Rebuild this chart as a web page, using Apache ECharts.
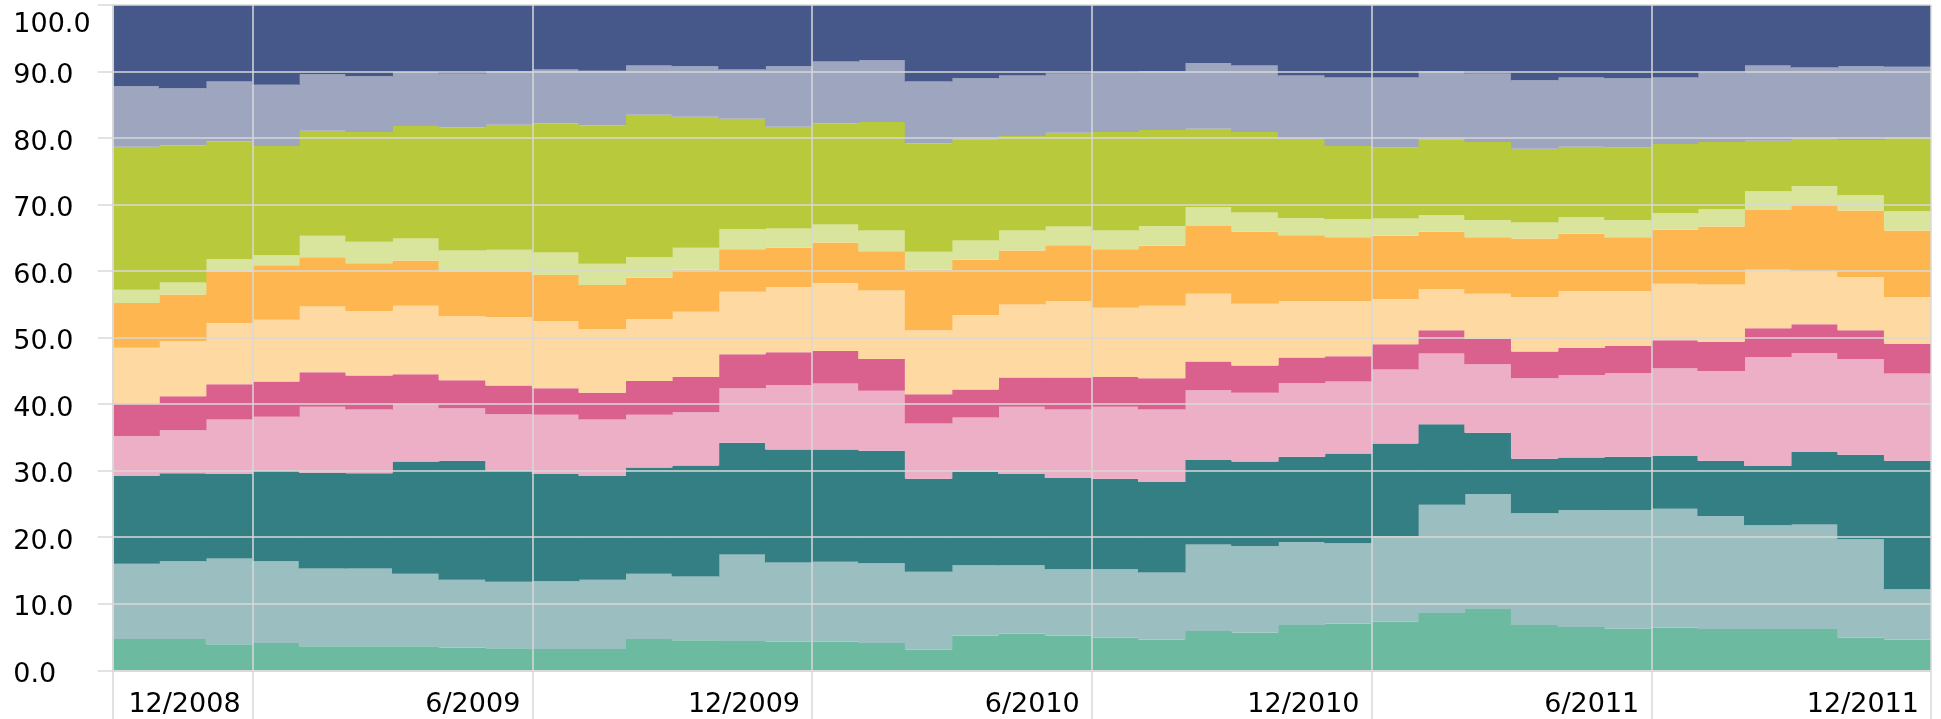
<!DOCTYPE html>
<html lang="en">
<head>
  <meta charset="UTF-8">
  <title>Monthly share, stacked</title>
  <style>
    html, body { margin: 0; padding: 0; background: #fff; }
    #main { width: 1941px; height: 719px; }
  </style>
</head>
<body>
  <div id="main"></div>
  <script src="https://cdn.jsdelivr.net/npm/echarts@6/dist/echarts.min.js"></script>
  <script type="text/javascript">

    // one entry per month, 10/2008 .. 12/2011
    var months = [
      '10/2008', '11/2008', '12/2008',
      '1/2009', '2/2009', '3/2009', '4/2009', '5/2009', '6/2009',
      '7/2009', '8/2009', '9/2009', '10/2009', '11/2009', '12/2009',
      '1/2010', '2/2010', '3/2010', '4/2010', '5/2010', '6/2010',
      '7/2010', '8/2010', '9/2010', '10/2010', '11/2010', '12/2010',
      '1/2011', '2/2011', '3/2011', '4/2011', '5/2011', '6/2011',
      '7/2011', '8/2011', '9/2011', '10/2011', '11/2011', '12/2011'
    ];
    var tickLabels = ['12/2008', '6/2009', '12/2009', '6/2010', '12/2010', '6/2011', '12/2011'];
    var yTicks = [0, 10, 20, 30, 40, 50, 60, 70, 80, 90, 100];

    // series, bottom to top (percent of total)
    var s1 = [4.7,4.7,3.9,4.1,3.6,3.6,3.6,3.4,3.3,3.2,3.2,4.7,4.5,4.4,4.3,4.3,4.1,3.1,5.2,5.5,5.2,4.9,4.6,5.9,5.7,6.8,7.0,7.3,8.6,9.2,6.8,6.5,6.3,6.4,6.2,6.2,6.2,4.9,4.6];
    var s2 = [11.3,11.7,12.9,12.3,11.7,11.7,10.9,10.2,10.0,10.2,10.4,9.8,9.6,13.0,11.9,12.0,12.0,11.7,10.6,10.3,10.0,10.3,10.1,13.0,13.0,12.5,12.1,12.9,16.3,17.3,16.8,17.6,17.8,17.9,17.0,15.6,15.7,14.8,7.6];
    var s3 = [13.2,13.2,12.7,13.6,14.4,14.3,16.9,17.9,16.7,16.1,15.6,16.0,16.7,16.8,17.0,16.9,16.9,14.0,14.1,13.7,13.7,13.6,13.6,12.7,12.7,12.8,13.5,13.9,12.1,9.2,8.2,7.9,8.0,7.9,8.3,8.9,10.9,12.7,19.3];
    var s4 = [6.0,6.5,8.2,8.1,9.9,9.6,8.6,7.9,8.5,8.9,8.5,7.9,8.0,8.2,9.7,9.9,9.0,8.3,8.1,10.1,10.3,10.8,10.9,10.5,10.3,11.1,10.8,11.1,10.6,10.3,12.1,12.4,12.6,13.2,13.5,16.4,14.9,14.4,13.1];
    var s5 = [4.9,5.1,5.3,5.3,5.2,5.1,4.5,4.2,4.3,4.0,4.0,5.1,5.3,5.1,4.9,4.9,4.8,4.4,4.2,4.4,4.8,4.5,4.7,4.3,4.1,3.8,3.8,3.8,3.5,3.8,4.0,4.1,4.1,4.2,4.4,4.3,4.3,4.3,4.5];
    var s6 = [8.4,8.3,9.2,9.3,9.9,9.7,10.3,9.6,10.3,10.1,9.6,9.3,9.8,9.4,9.8,10.2,10.3,9.6,11.2,11.0,11.5,10.4,10.9,10.2,9.3,8.5,8.3,6.8,6.2,6.8,8.2,8.5,8.2,8.5,8.6,8.8,8.0,8.0,7.0];
    var s7 = [6.7,7.0,7.7,8.2,7.4,7.2,6.8,6.7,6.8,6.9,6.6,6.2,6.3,6.4,5.9,6.1,5.9,9.1,8.3,8.1,8.4,8.8,9.0,10.2,10.8,9.9,9.6,9.5,8.6,8.5,8.8,8.6,8.1,8.1,8.7,9.0,9.9,10.0,10.0];
    var s8 = [2.0,1.8,1.9,1.5,3.2,3.2,3.3,3.2,3.3,3.4,3.2,3.1,3.3,3.0,2.9,2.7,3.1,2.7,2.9,3.0,2.8,2.8,3.0,2.8,2.9,2.6,2.7,2.6,2.5,2.6,2.4,2.5,2.6,2.5,2.6,2.8,2.9,2.3,2.9];
    var s9 = [21.5,20.6,17.7,16.4,15.8,16.5,16.9,18.5,18.8,19.4,20.8,21.4,19.7,16.6,15.3,15.2,16.3,16.3,15.2,14.2,14.1,14.8,14.4,11.8,12.1,11.9,11.0,10.7,11.4,11.7,11.1,10.6,10.9,10.4,10.1,7.6,7.1,8.3,11.0];
    var s10 = [9.1,8.6,9.0,9.2,8.5,8.4,8.1,8.1,8.0,8.1,8.2,7.4,7.6,7.4,9.1,9.3,9.3,9.3,9.2,9.1,8.9,9.0,8.8,9.9,10.0,9.5,10.3,10.5,10.2,10.3,10.3,10.4,10.4,10.0,10.4,11.3,10.7,11.1,10.7];
    var s11 = [12.2,12.5,11.5,12.0,10.4,10.7,10.1,10.3,10.0,9.7,9.9,9.1,9.2,9.7,9.2,8.5,8.3,11.5,11.0,10.6,10.3,10.1,10.0,8.7,9.1,10.6,10.9,10.9,10.0,10.3,11.3,10.9,11.0,10.9,10.2,9.1,9.4,9.2,9.3];

    var allSeries = [s1, s2, s3, s4, s5, s6, s7, s8, s9, s10, s11];
    var colors = ['#6cbba0', '#9bbfc1', '#337f83', '#edafc6', '#da608e', '#fed9a2',
                  '#feb650', '#d9e49c', '#b8ca3b', '#9da5bf', '#465789'];

    var gridColor = '#d9d9d9';
    var font = 'DejaVu Sans, Verdana, sans-serif';

    // second x axis: month boundaries, index 0 = left edge, index i = end of months[i-1]
    var bounds = [''].concat(months);

    function onTick(index, value) {
      return index === 0 || tickLabels.indexOf(value) >= 0;
    }

    // each month is one stacked column, a hair wider than its band so no seams show
    var series = allSeries.map(function (vals, k) {
      return {
        name: 'S' + (k + 1),
        type: 'bar',
        stack: 'total',
        xAxisIndex: 0,
        barCategoryGap: 0,
        barWidth: '102%',
        itemStyle: { color: colors[k] },
        data: vals
      };
    });

    var myChart = echarts.init(document.getElementById('main'));

    var option = {
      animation: false,
      backgroundColor: '#fff',
      grid: { left: 112.7, right: 10, top: 5, bottom: 48.7 },
      xAxis: [{
        type: 'category',
        data: months,
        boundaryGap: true,
        axisLine: { show: false },
        axisTick: { show: false },
        splitLine: { show: false },
        axisLabel: { show: false }
      }, {
        type: 'category',
        data: bounds,
        boundaryGap: false,
        position: 'bottom',
        z: 10,
        axisLine: { show: true, lineStyle: { color: gridColor, width: 1.5 } },
        axisTick: { show: true, interval: onTick, length: 50, lineStyle: { color: gridColor, width: 1.5 } },
        splitLine: { show: true, interval: onTick, lineStyle: { color: gridColor, width: 1.5 } },
        axisLabel: {
          interval: function (index, value) { return tickLabels.indexOf(value) >= 0; },
          align: 'right',
          padding: [0, 12, 0, 0],
          margin: 21,
          color: '#000',
          fontSize: 27,
          fontFamily: font
        }
      }],
      yAxis: {
        type: 'value',
        min: 0,
        max: 100,
        interval: 10,
        z: 10,
        axisLine: { show: true, lineStyle: { color: gridColor, width: 1.5 } },
        axisTick: { show: true, length: 15, lineStyle: { color: gridColor, width: 1.5 } },
        splitLine: { show: true, lineStyle: { color: gridColor, width: 1.5 } },
        axisLabel: {
          align: 'left',
          margin: 99.4,
          color: '#000',
          fontSize: 27,
          fontFamily: font,
          formatter: function (v) {
            return (v === yTicks[yTicks.length - 1] ? '{t|' : '{n|') + v.toFixed(1) + '}';
          },
          rich: {
            n: { fontSize: 27, fontFamily: font, color: '#000', padding: [9, 0, 0, 0] },
            t: { fontSize: 27, fontFamily: font, color: '#000', padding: [39, 0, 0, 0] }
          }
        }
      },
      series: series
    };

    myChart.setOption(option);
  </script>
</body>
</html>
